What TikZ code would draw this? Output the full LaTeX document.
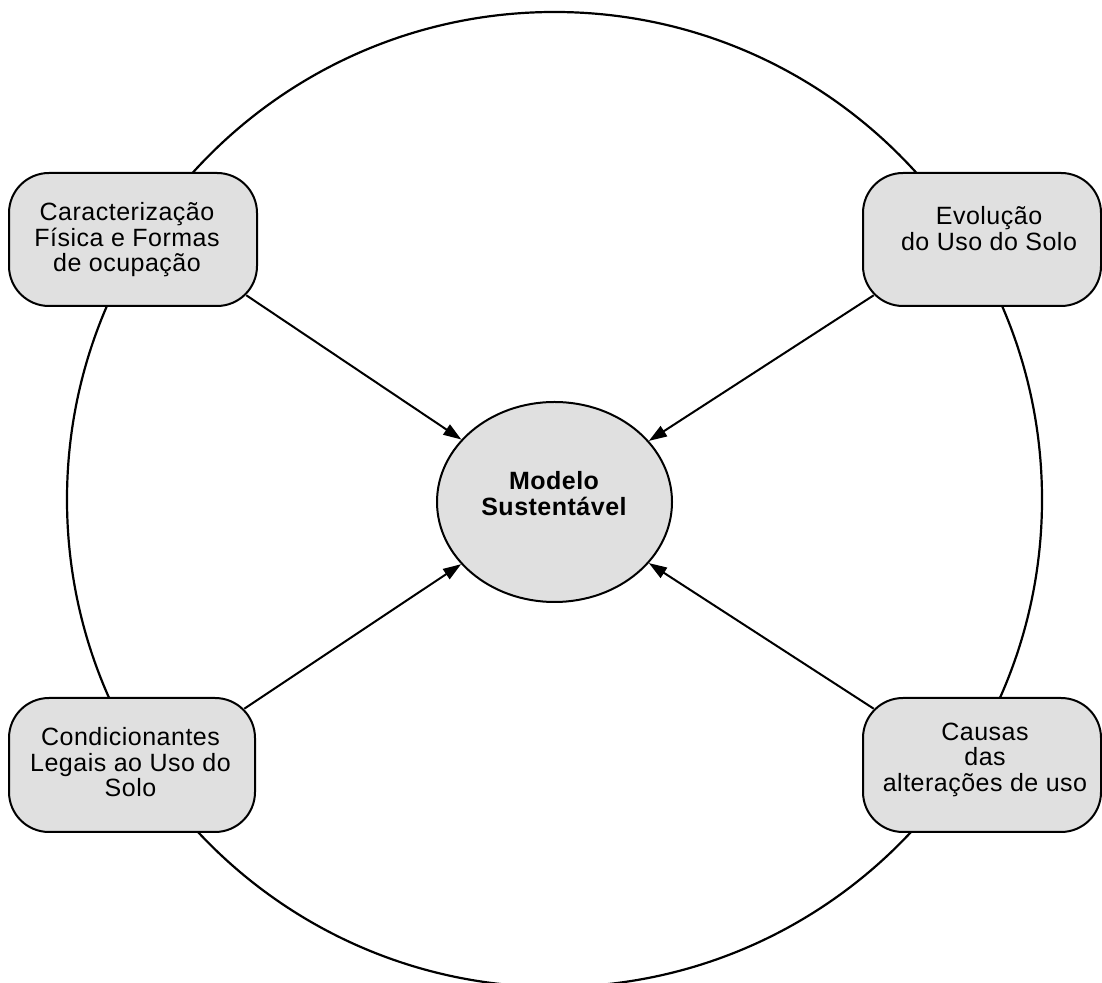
\documentclass[tikz,border=0pt]{standalone}
\usepackage{fontspec}
\setmainfont{Liberation Sans}[LetterSpace=2]
\usetikzlibrary{arrows.meta,shapes.geometric}

\definecolor{boxgray}{RGB}{224,224,224}

\tikzset{
  topic/.style={draw=black, line width=2pt, fill=boxgray, rounded corners=40pt,
    minimum height=133pt, inner sep=0pt},
  topictext/.style={anchor=north, align=center, inner sep=0pt,
    font=\fontsize{25pt}{25.5pt}\selectfont},
  flow/.style={line width=2pt, -{Triangle[length=18pt,width=12pt]}},
}

\begin{document}
\begin{tikzpicture}[x=1pt,y=1pt]
  \useasboundingbox (0,0) rectangle (1102,982);

  % surrounding ring
  \draw[line width=2.2pt] (554.5,482.5) circle[radius=487.5pt];

  % the four themes
  \node[topic, minimum width=248pt] (b1) at (133,742.5) {};
  \node[topic, minimum width=238pt] (b2) at (982,742.5) {};
  \node[topic, minimum width=246pt, minimum height=134pt] (b3) at (132,217) {};
  \node[topic, minimum width=238pt, minimum height=134pt] (b4) at (982,217) {};

  \node[topictext] (t1) at (127,779.5) {Caracterização\\Física e Formas\\de ocupação};
  \node[topictext] (t2) at (989,775.8) {Evolução\\do Uso do Solo};
  \node[topictext] (t3) at (130.5,254.5) {Condicionantes\\Legais ao Uso do\\Solo};
  \node[topictext] (t4) at (985,259.2) {Causas\\das\\alterações de uso};

  % central model
  \node[draw=black, line width=2pt, fill=boxgray, ellipse, inner sep=0pt,
    minimum width=235pt, minimum height=200pt] (m) at (554.5,480) {};
  \node[topictext, font=\fontsize{25pt}{26pt}\selectfont\bfseries] (tm) at (554,510.5)
    {Modelo\\Sustentável};

  % links from each theme to the model
  \draw[flow] ([shift={(-11.7pt,11.7pt)}]b1.south east) -- (m);
  \draw[flow] ([shift={(11.7pt,11.7pt)}]b2.south west) -- (m);
  \draw[flow] ([shift={(-11.7pt,-11.7pt)}]b3.north east) -- (m);
  \draw[flow] ([shift={(11.7pt,-11.7pt)}]b4.north west) -- (m);
\end{tikzpicture}
\end{document}
